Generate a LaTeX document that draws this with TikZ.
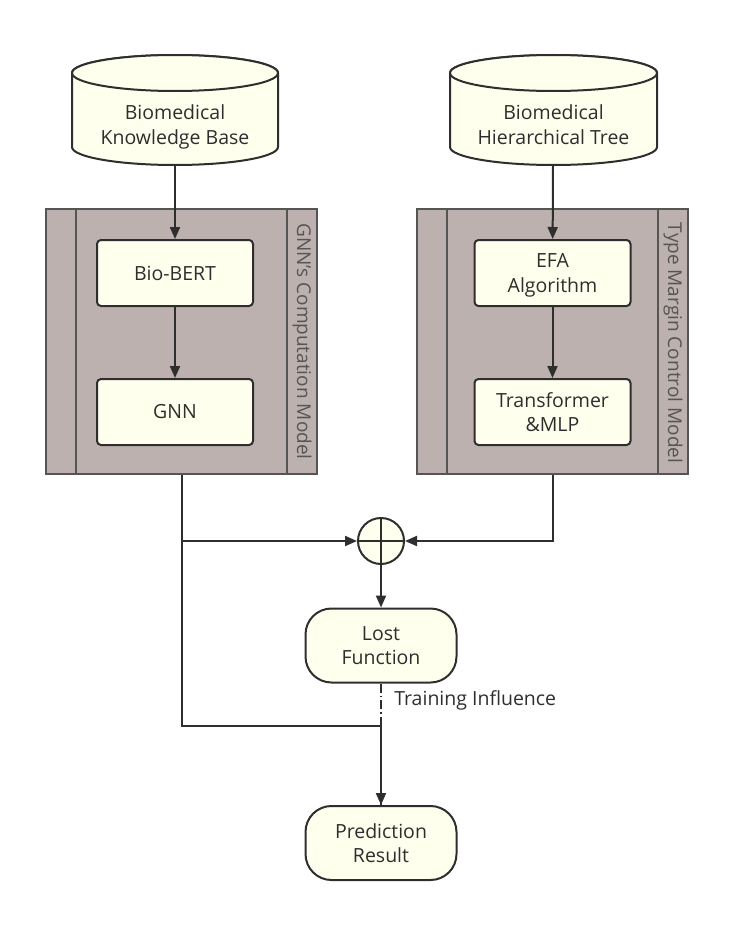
\documentclass[tikz,border=0pt]{standalone}
\usepackage{fontspec}
\setmainfont{Open Sans}
\usetikzlibrary{arrows.meta}
\definecolor{boxfill}{HTML}{FFFFEE}
\definecolor{panelfill}{HTML}{BCB1AE}
\definecolor{ink}{HTML}{2E2E2E}
\definecolor{panelline}{HTML}{555555}
\begin{document}
\begin{tikzpicture}[x=1pt,y=-1pt,
  line width=2pt,
  txt/.style={font=\fontsize{19.5}{24.5}\selectfont, text=ink, align=center},
  proc/.style={txt, draw=ink, fill=boxfill, rounded corners=4pt, minimum width=156pt, minimum height=66pt, inner sep=0pt},
  term/.style={txt, draw=ink, fill=boxfill, rounded corners=26pt, minimum width=151pt, minimum height=74pt, inner sep=0pt},
  arr/.style={draw=ink, -{Triangle[length=12pt,width=10pt]}},
  conn/.style={draw=ink},
  cyl/.style={draw=ink, fill=boxfill},
  panel/.style={draw=panelline, fill=panelfill, inner sep=0pt, minimum width=271pt, minimum height=265pt},
  lane/.style={font=\fontsize{19}{24}\selectfont, text=panelline, rotate=-90}
]
\useasboundingbox (0,0) rectangle (744,934);

% cylinders
\draw[cyl] (72,73) -- (72,147) arc[start angle=180, end angle=0, x radius=103, y radius=18] -- (278,73) arc[start angle=0, end angle=-180, x radius=103, y radius=18] -- cycle;
\draw[cyl] (175,73) ellipse [x radius=103, y radius=18];
\node[txt] (kb) at (175,124.5) {Biomedical\\Knowled\smash{g}e Base};
\coordinate (kbbot) at (175,165);

\draw[cyl] (450,73) -- (450,147) arc[start angle=180, end angle=0, x radius=103.5, y radius=18] -- (657,73) arc[start angle=0, end angle=-180, x radius=103.5, y radius=18] -- cycle;
\draw[cyl] (553.5,73) ellipse [x radius=103.5, y radius=18];
\node[txt] (ht) at (553.5,124.5) {Biomedical\\Hierarchical Tree};
\coordinate (htbot) at (553,165);

% panels
\node[panel] (p1) at (181.5,341.5) {};
\draw[panelline] (76,209) -- (76,474) (287,209) -- (287,474);
\node[lane] (l1) at (302,341.5) {GNN's Computation Model};

\node[panel] (p2) at (552.5,341.5) {};
\draw[panelline] (447,209) -- (447,474) (658,209) -- (658,474);
\node[lane] (l2) at (673,343) {Type Margin Control Model};

% boxes
\node[proc] (bert) at (175,273) {Bio-BERT};
\node[proc] (gnn) at (175,412) {GNN};
\node[proc] (efa) at (552.5,273) {EFA\\Al\smash{g}orithm};
\node[proc] (tmlp) at (552.5,412) {Transformer\\\&MLP};

\node[draw=ink, fill=boxfill, circle, minimum size=46pt, inner sep=0pt] (sum) at (381,541) {};
\draw[conn] (sum.north) -- (sum.south) (sum.west) -- (sum.east);

\node[term] (lost) at (381,645.5) {Lost\\Function};
\node[term] (pred) at (381,843) {Prediction\\Result};

% connectors
\draw[arr] (kbbot) -- (bert);
\draw[arr] (bert) -- (gnn);
\draw[arr] (htbot) -- (efa);
\draw[arr] (efa) -- (tmlp);

\draw[arr] (p1.south |- sum) -- (sum.west);
\draw[arr] (p2.south) |- (sum.east);
\draw[arr] (sum) -- (lost);

\draw[draw=ink, line width=1.6pt, dash pattern=on 9pt off 3pt on 1.5pt off 3pt] (lost) -- (pred);
\coordinate (j) at (181.5,726);
\draw[arr] (p1.south) -- (j) -- (j -| pred.north) -- (pred.north);

\node[txt, anchor=west] (ti) at (390,700) {Training Influence};
\end{tikzpicture}
\end{document}
